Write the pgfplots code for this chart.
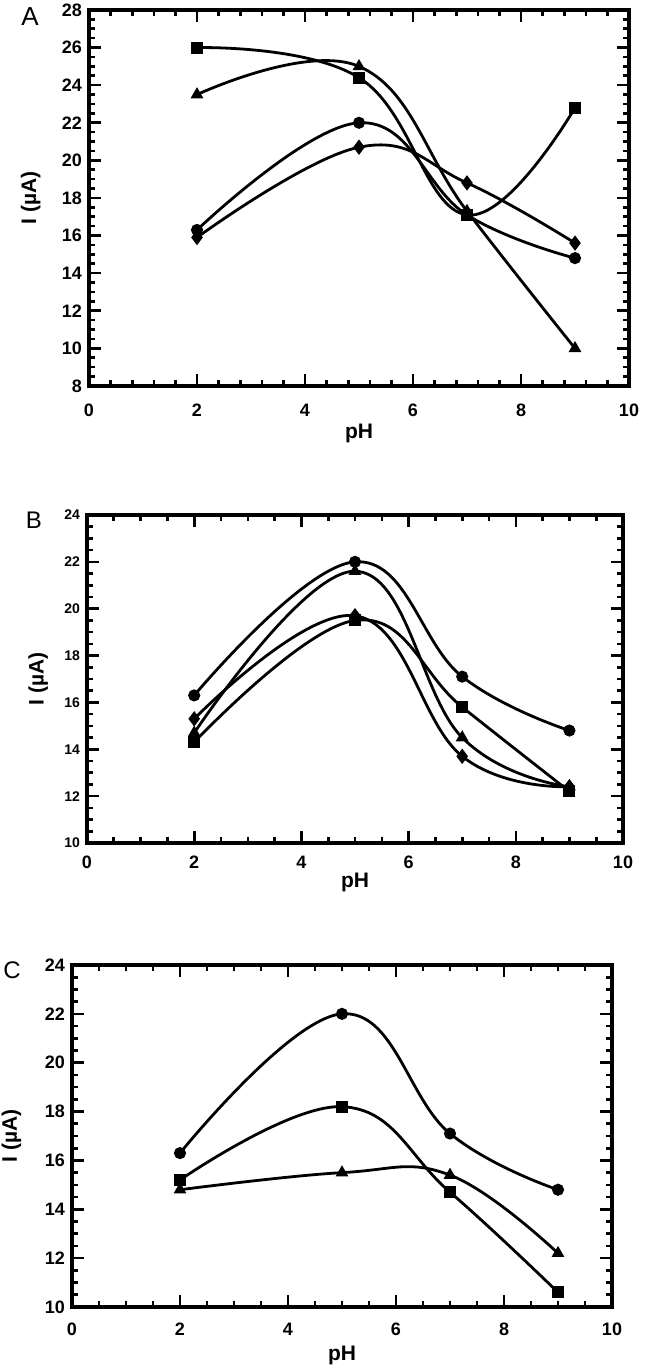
\documentclass[border=0pt]{standalone}
\usepackage{pgfplots}
\pgfplotsset{compat=1.18}
\usepackage{fontspec}
\setmainfont{Liberation Sans}
\pgfplotsset{
  panel/.style={
    scale only axis,
    xmin=0, xmax=10,
    xtick={0,2,4,6,8,10},
    tick align=inside,
    xtick pos=both, ytick pos=both,
    axis line style={line width=1.7pt},
    major tick length=6pt,
    minor tick length=3pt,
    every tick/.style={black, line width=1.3pt},
    /pgf/number format/assume math mode=true,
    xlabel={pH},
    ylabel={I (µA)},
    label style={font=\fontsize{10.5}{11}\selectfont\bfseries},
    cycle list={{black, mark options={solid, fill=black}}},
    every axis plot/.append style={line width=1.4pt, smooth, tension=0.7, mark size=2.3pt},
    xticklabel style={anchor=center},
    ylabel style={anchor=center},
    xlabel style={anchor=center},
  },
}
\begin{document}
\begin{tikzpicture}
\useasboundingbox (0,0) rectangle (322pt,684.5pt);
% Panel A
\begin{axis}[panel,
  at={(44.5pt,491.5pt)}, anchor=south west,
  width=270pt, height=188pt,
  ymin=8, ymax=28, ytick={8,10,...,28},
  minor x tick num=4, minor y tick num=3,
  tick label style={font=\fontsize{9}{10}\selectfont\bfseries},
  xticklabel style={yshift=-12pt},
  xlabel style={at={(axis description cs:0.5,-0.125)}},
  ylabel style={at={(axis description cs:-0.108,0.5)}},
]
\addplot[black, mark=square*, mark options={fill=black}] coordinates {(2,26) (5,24.4) (7,17.1) (9,22.8)};
\addplot[black, mark=triangle*, mark options={fill=black}] coordinates {(2,23.5) (5,25) (7,17.3) (9,10)};
\addplot[black, mark=*, mark options={fill=black}] coordinates {(2,16.3) (5,22) (7,17.1) (9,14.8)};
\addplot[black, mark=diamond*, mark options={fill=black}, mark size=2.7pt] coordinates {(2,15.9) (5,20.7) (7,18.8) (9,15.6)};
\end{axis}
\node[font=\fontsize{13}{14}\selectfont] at (15pt,676pt) {A};
% Panel B
\begin{axis}[panel,
  at={(43.5pt,263pt)}, anchor=south west,
  width=268pt, height=164pt,
  ymin=10, ymax=24, ytick={10,12,...,24},
  minor x tick num=3, minor y tick num=3,
  xticklabel style={font=\fontsize{9}{10}\selectfont\bfseries, yshift=-9.5pt},
  yticklabel style={font=\fontsize{7}{8}\selectfont\bfseries},
  xlabel style={at={(axis description cs:0.5,-0.119)}},
  ylabel style={at={(axis description cs:-0.091,0.5)}},
]
\addplot[black, mark=*, mark options={fill=black}] coordinates {(2,16.3) (5,22) (7,17.1) (9,14.8)};
\addplot[black, mark=triangle*, mark options={fill=black}] coordinates {(2,14.7) (5,21.6) (7,14.5) (9,12.4)};
\addplot[black, mark=diamond*, mark options={fill=black}, mark size=2.7pt] coordinates {(2,15.3) (5,19.7) (7,13.7) (9,12.4)};
\addplot[black, mark=square*, mark options={fill=black}] coordinates {(2,14.3) (5,19.5) (7,15.8) (9,12.2)};
\end{axis}
\node[font=\fontsize{12}{13}\selectfont] at (17pt,424.5pt) {B};
% Panel C
\begin{axis}[panel,
  at={(36pt,31pt)}, anchor=south west,
  width=270pt, height=171pt,
  ymin=10, ymax=24, ytick={10,12,...,24},
  minor x tick num=3, minor y tick num=3,
  tick label style={font=\fontsize{9}{10}\selectfont\bfseries},
  xticklabel style={yshift=-11pt},
  xlabel style={at={(axis description cs:0.5,-0.143)}},
  ylabel style={at={(axis description cs:-0.112,0.5)}},
]
\addplot[black, mark=*, mark options={fill=black}] coordinates {(2,16.3) (5,22) (7,17.1) (9,14.8)};
\addplot[black, mark=square*, mark options={fill=black}] coordinates {(2,15.2) (5,18.2) (7,14.7) (9,10.6)};
\addplot[black, mark=triangle*, mark options={fill=black}] coordinates {(2,14.8) (5,15.5) (7,15.4) (9,12.2)};
\end{axis}
\node[font=\fontsize{12}{13}\selectfont] at (6pt,199.5pt) {C};
\end{tikzpicture}
\end{document}
